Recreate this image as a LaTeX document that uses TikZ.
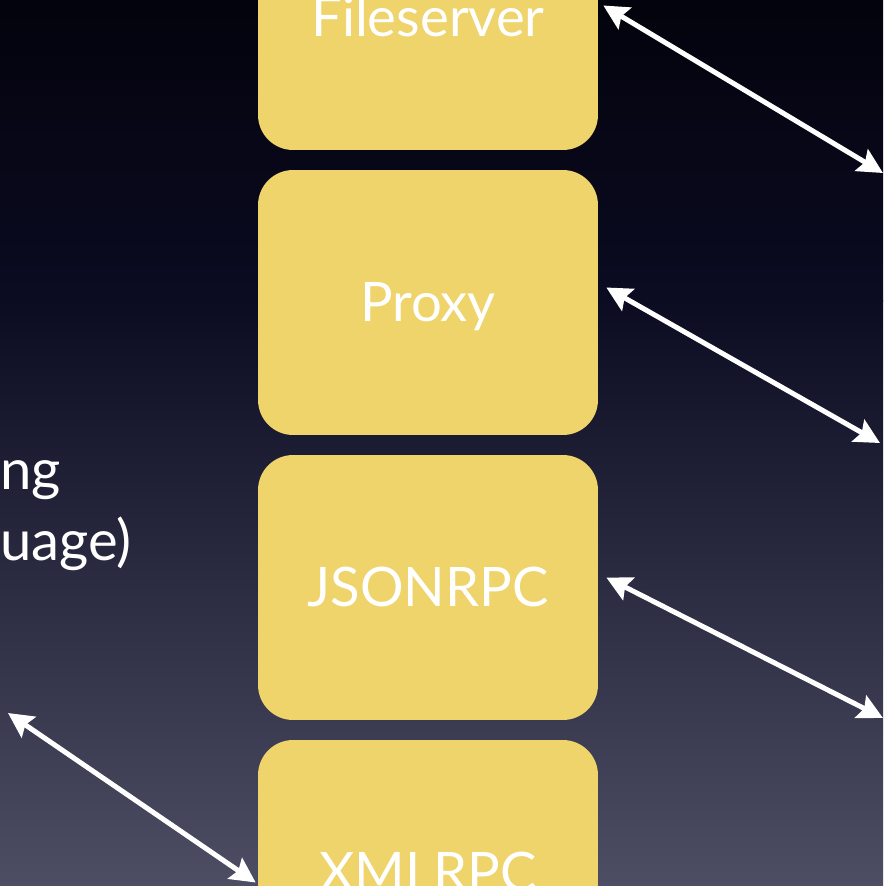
\documentclass[tikz,border=0pt]{standalone}
\usepackage{fontspec}
\setmainfont{Lato}
\usetikzlibrary{arrows.meta}
\definecolor{bgtop}{HTML}{03030D}
\definecolor{bgupper}{HTML}{0B0B22}
\definecolor{bgmid}{HTML}{1F1F38}
\definecolor{bgbottom}{HTML}{4D4D63}
\definecolor{boxyellow}{HTML}{EFD36B}

\begin{document}
\begin{tikzpicture}[x=0.02cm,y=-0.02cm,
    layer/.style={fill=boxyellow,rounded corners=0.7cm,minimum width=6.8cm,
      minimum height=5.3cm,inner sep=0pt,text=white,
      font=\fontsize{31}{36}\selectfont,text height=22pt,text depth=0pt},
    link/.style={white,line width=0.1cm,
      {Stealth[length=0.5cm,width=0.5cm,inset=0.08cm]}-{Stealth[length=0.5cm,width=0.5cm,inset=0.08cm]}}]
      \useasboundingbox (0,0) rectangle (883,886);
      \clip (0,0) rectangle (883,886);
      % background
      \shade[top color=bgtop,bottom color=bgupper] (0,0) rectangle (883,301);
      \shade[top color=bgupper,middle color=bgmid,bottom color=bgbottom] (0,300) rectangle (883,886);
      % stack of layers
      \node[layer] (fs) at (428,17.5) {Fileserver};
      \node[layer] (px) at (428,302.5) {Proxy};
      \node[layer] (js) at (428,587.5) {JSONRPC};
      \node[layer] (xml) at (428,872.5) {XMLRPC};
      % text on the left
      \node[anchor=base west,align=left,inner sep=0pt,text=white,
        font=\fontsize{32}{40}\selectfont] (lang) at (0,560) {ng\\uage)};
      % free ends of the arrows
      \coordinate (fsEnd) at (883,173);
      \coordinate (pxEnd) at (880,443);
      \coordinate (jsEnd) at (883,718);
      \coordinate (langEnd) at (8,713);
      % arrows
      \draw[link] ([shift={(5,-12)}]fs.east) -- (fsEnd);
      \draw[link] ([shift={(8,-15)}]px.east) -- (pxEnd);
      \draw[link] ([shift={(8,-10)}]js.east) -- (jsEnd);
      \draw[link] (langEnd) -- ([shift={(-2,10)}]xml.west);
    \end{tikzpicture}
\end{document}
